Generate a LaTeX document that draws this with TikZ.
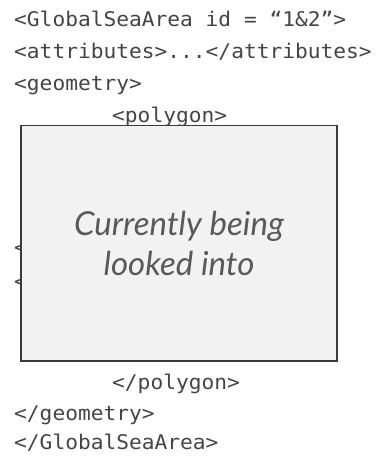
\documentclass[tikz,border=0pt]{standalone}
\usepackage{fontspec}
\newfontfamily\codefont[FakeStretch=1.05]{DejaVu Sans Mono}
\newfontfamily\latofont{Lato}
\definecolor{codegray}{HTML}{444444}
\definecolor{notegray}{HTML}{595959}
\definecolor{boxfill}{HTML}{F2F2F2}
\definecolor{boxline}{HTML}{3A3A3A}
\begin{document}
\begin{tikzpicture}[x=1pt,y=-1pt,
  codeline/.style={anchor=base west, inner sep=0pt, text=codegray, font=\codefont\fontsize{20.2}{24}\selectfont},
  notebox/.style={draw=boxline, line width=1.6pt, fill=boxfill},
  notetext/.style={text=notegray, align=center, font=\latofont\itshape\fontsize{33}{40}\selectfont}]
\useasboundingbox (0,0) rectangle (386,457);
\node[codeline] (l1) at (14,27) {<GlobalSeaArea id = “1\&2”>};
\node[codeline] (l2) at (14,59) {<attributes>...</attributes>};
\node[codeline] (l3) at (14,91) {<geometry>};
\node[codeline] (l4) at (112,123) {<polygon>};
\node[codeline] (h1) at (14,254) {<};
\node[codeline] (h2) at (14,288) {<};
\node[codeline] (l5) at (112,389) {</polygon>};
\node[codeline] (l6) at (14,420) {</geometry>};
\node[codeline] (l7) at (14,449) {</GlobalSeaArea>};
\draw[notebox] (21,125.5) rectangle (337,361);
\node[notetext] (note) at (179,243) {Currently being\\looked into};
\end{tikzpicture}
\end{document}
